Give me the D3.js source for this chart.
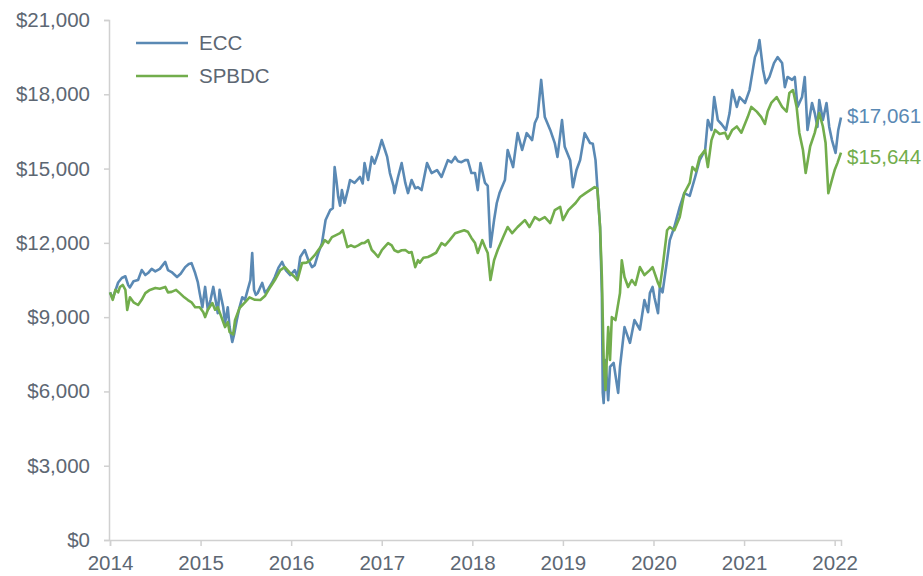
<!DOCTYPE html>
<html>
<head>
<meta charset="utf-8">
<script src="https://cdn.jsdelivr.net/npm/d3@7"></script>
<style>
  body { margin: 0; background: #fff; }
  svg text { font-family: "Liberation Sans", Arial, sans-serif; }
</style>
</head>
<body>
<div id="chart"></div>
<script>
// series data, dates as decimal years
var eccDates = [2014.00,2014.03,2014.09,2014.13,2014.17,2014.20,2014.22,2014.26,2014.31,2014.35,2014.39,2014.42,2014.46,2014.50,2014.55,2014.61,2014.64,2014.68,2014.74,2014.78,2014.83,2014.87,2014.90,2014.94,2014.97,2014.99,
  2015.02,2015.05,2015.08,2015.11,2015.14,2015.17,2015.19,2015.21,2015.25,2015.27,2015.30,2015.32,2015.35,2015.37,2015.40,2015.43,2015.46,2015.49,2015.52,2015.55,2015.57,2015.59,2015.61,2015.63,2015.68,2015.71,2015.74,2015.79,2015.82,2015.86,2015.90,2015.94,2015.99,
  2016.04,2016.07,2016.10,2016.15,2016.19,2016.23,2016.26,2016.30,2016.34,2016.38,2016.43,2016.46,2016.48,2016.50,2016.52,2016.54,2016.56,2016.59,2016.63,2016.65,2016.70,2016.76,2016.79,2016.81,2016.85,2016.89,2016.92,2016.96,
  2017.00,2017.04,2017.06,2017.09,2017.13,2017.14,2017.18,2017.22,2017.26,2017.29,2017.33,2017.37,2017.40,2017.44,2017.50,2017.55,2017.61,2017.66,2017.73,2017.77,2017.81,2017.84,2017.88,2017.92,2017.95,2017.99,
  2018.03,2018.06,2018.09,2018.14,2018.17,2018.20,2018.24,2018.27,2018.30,2018.36,2018.39,2018.45,2018.50,2018.55,2018.60,2018.66,2018.69,2018.72,2018.76,2018.80,2018.86,2018.91,2018.94,2018.99,
  2019.02,2019.08,2019.11,2019.15,2019.19,2019.24,2019.30,2019.33,2019.36,2019.38,2019.41,2019.43,2019.44,2019.45,2019.47,2019.50,2019.52,2019.56,2019.61,2019.63,2019.68,2019.74,2019.79,2019.85,2019.90,2019.94,2019.96,2019.99,
  2020.01,2020.05,2020.07,2020.10,2020.15,2020.18,2020.23,2020.29,2020.34,2020.40,2020.46,2020.51,2020.57,2020.60,2020.64,2020.67,2020.71,2020.75,2020.80,2020.84,2020.87,2020.92,2020.95,
  2021.01,2021.06,2021.12,2021.15,2021.17,2021.21,2021.24,2021.28,2021.33,2021.37,2021.42,2021.45,2021.48,2021.53,2021.56,2021.59,2021.64,2021.67,2021.70,2021.75,2021.78,2021.81,2021.83,2021.87,2021.91,2021.94,2021.97,
  2022.01,2022.04,2022.07];
var eccValues = [10000,9750,10400,10580,10650,10300,10200,10450,10500,10900,10700,10780,10950,10850,10950,11230,10900,10820,10620,10750,11020,11150,11180,10780,10400,9970,
  9400,10220,9290,9700,10220,9600,9160,10100,9400,8760,9400,8600,8000,8300,8880,9400,9800,9700,10100,10500,11590,10100,9900,9970,10380,10000,10100,10400,10620,11000,11230,10900,10700,
  10900,10620,11430,11710,11300,11020,11100,11590,11990,12920,13320,13400,15060,14500,13850,13500,14130,13610,14200,14540,14420,14660,14400,15220,14540,15470,15200,15630,
  16150,15700,15470,14820,14300,14010,14660,15220,14420,14010,14540,14200,14250,14130,15220,14820,14940,14660,15340,15250,15470,15300,15260,15340,15340,14820,
  14820,14130,15220,14420,14300,11830,12920,13610,14010,14540,15750,15060,16430,15750,16430,16150,16840,17080,18580,17080,16560,16030,15470,16960,
  15880,15340,14250,14940,15340,16430,16030,16000,15340,14250,12640,9970,5940,5530,7270,5650,6990,7150,5940,6990,8600,7960,8880,8500,9690,9200,9970,10220,
  9800,9160,10220,10000,11300,12110,12640,13450,14010,13900,14660,15340,15750,16960,16560,17890,16960,16800,16560,17240,18170,17490,17890,
  17650,18170,19500,19790,20190,18980,18450,18700,19260,19500,19260,18290,18700,18580,18700,17490,17890,18700,16560,17650,17240,16680,17770,16960,17650,16680,16150,
  15630,16560,17061];

var spbdcDates = [2014.00,2014.03,2014.06,2014.09,2014.11,2014.14,2014.17,2014.19,2014.22,2014.26,2014.31,2014.35,2014.39,2014.44,2014.50,2014.55,2014.61,2014.64,2014.68,2014.73,2014.77,2014.82,2014.86,2014.90,2014.94,2014.99,
  2015.03,2015.05,2015.08,2015.13,2015.16,2015.19,2015.22,2015.27,2015.30,2015.32,2015.36,2015.38,2015.43,2015.49,2015.54,2015.60,2015.66,2015.71,2015.77,2015.82,2015.88,2015.93,2015.99,
  2016.04,2016.07,2016.12,2016.17,2016.21,2016.26,2016.30,2016.34,2016.37,2016.41,2016.45,2016.49,2016.54,2016.57,2016.62,2016.66,2016.70,2016.74,2016.78,2016.81,2016.85,2016.89,2016.92,2016.96,
  2017.00,2017.03,2017.07,2017.11,2017.14,2017.18,2017.22,2017.26,2017.30,2017.33,2017.37,2017.40,2017.42,2017.46,2017.51,2017.55,2017.60,2017.66,2017.70,2017.75,2017.81,2017.86,2017.91,2017.95,2017.99,
  2018.03,2018.06,2018.11,2018.14,2018.17,2018.20,2018.24,2018.28,2018.34,2018.39,2018.44,2018.50,2018.58,2018.63,2018.69,2018.74,2018.80,2018.86,2018.91,2018.97,
  2019.00,2019.06,2019.14,2019.19,2019.25,2019.30,2019.35,2019.38,2019.41,2019.43,2019.45,2019.47,2019.50,2019.52,2019.54,2019.58,2019.63,2019.65,2019.68,2019.72,2019.76,2019.80,2019.85,2019.90,2019.96,2019.99,
  2020.05,2020.07,2020.10,2020.15,2020.18,2020.23,2020.29,2020.34,2020.40,2020.43,2020.47,2020.51,2020.57,2020.60,2020.64,2020.68,2020.73,2020.79,2020.82,2020.87,2020.92,2020.97,
  2021.04,2021.08,2021.14,2021.19,2021.23,2021.26,2021.30,2021.36,2021.42,2021.47,2021.50,2021.54,2021.58,2021.61,2021.65,2021.68,2021.73,2021.78,2021.83,2021.87,2021.90,2021.93,2021.97,
  2022.00,2022.03,2022.07];
var spbdcValues = [10000,9700,10100,10000,10220,10300,10100,9290,9800,9600,9490,9700,9970,10100,10180,10150,10220,10000,10020,10100,9970,9800,9690,9600,9400,9400,
  9200,9000,9300,9570,9300,9400,9100,8600,8800,8400,8300,8880,9370,9600,9800,9700,9690,9850,10220,10500,10900,11020,10780,
  10620,10500,11180,11200,11300,11500,11710,11900,12110,12000,12230,12300,12390,12510,11830,11900,11830,11900,11990,12000,12110,11710,11600,11430,
  11700,11830,11990,11900,11700,11630,11700,11710,11600,11630,11020,11300,11200,11400,11430,11500,11600,11990,11900,12110,12390,12450,12510,12450,12200,
  11990,11590,12110,11830,11590,10500,11300,11710,12230,12640,12390,12640,12920,12640,13040,12920,13040,12800,13320,13450,
  12920,13320,13610,13850,14010,14130,14250,14200,12640,10620,7270,6060,8600,7270,9000,8880,9970,11300,10620,10220,10500,10300,11020,10700,10900,11020,
  10380,10220,11000,12510,12640,12510,13040,14010,14420,15060,14900,15470,15750,15060,16150,16560,16400,16450,16200,16560,16700,16450,
  17080,17490,17300,17080,16800,17300,17650,17890,17490,17300,18050,18170,17490,16440,15750,14820,15900,16440,17240,16700,16030,14010,14540,
  14940,15220,15644];

var yTicks = [0, 3000, 6000, 9000, 12000, 15000, 18000, 21000];
var xTicks = [2014, 2015, 2016, 2017, 2018, 2019, 2020, 2021, 2022];
var seriesNames = ["ECC", "SPBDC"];
var seriesColors = ["#5a89b4", "#72ad4c"];
var endLabels = ["$17,061", "$15,644"];

var width = 923, height = 576;
var margin = {left: 110, right: 82, top: 20, bottom: 36};
var textColor = "#5d6773";
var axisColor = "#d0d0d0";
var fontSize = "20.5px";

var svg = d3.select("#chart").append("svg")
  .attr("width", width)
  .attr("height", height);

var x = d3.scaleLinear()
  .domain([2014, 2022.07])
  .range([margin.left, width - margin.right]);

var y = d3.scaleLinear()
  .domain([0, 21000])
  .range([height - margin.bottom, margin.top]);

var fmt = d3.format("$,");

// y axis
var yAxis = svg.append("g")
  .attr("transform", "translate(" + (margin.left - 1) + ",0)")
  .call(d3.axisLeft(y).tickValues(yTicks).tickFormat(fmt).tickSize(5).tickPadding(14));
yAxis.select(".domain").attr("stroke", axisColor).attr("stroke-width", 1.5);
yAxis.selectAll(".tick line").attr("stroke", axisColor).attr("stroke-width", 1.5);
yAxis.selectAll("text").attr("fill", textColor).style("font-size", fontSize);

// x axis
var xAxis = svg.append("g")
  .attr("transform", "translate(0," + (height - margin.bottom) + ")")
  .call(d3.axisBottom(x).tickValues(xTicks).tickFormat(d3.format("d")).tickSize(6).tickPadding(9));
xAxis.select(".domain").attr("stroke", axisColor).attr("stroke-width", 1.5);
xAxis.selectAll(".tick line").attr("stroke", axisColor).attr("stroke-width", 1.5);
xAxis.selectAll("text").attr("fill", textColor).style("font-size", fontSize);

// lines
var series = [
  {name: seriesNames[0], dates: eccDates, values: eccValues, color: seriesColors[0], label: endLabels[0]},
  {name: seriesNames[1], dates: spbdcDates, values: spbdcValues, color: seriesColors[1], label: endLabels[1]}
];

var line = d3.line()
  .x(function(d) { return x(d[0]); })
  .y(function(d) { return y(d[1]); });

series.forEach(function(s) {
  var pts = d3.zip(s.dates, s.values);
  svg.append("path")
    .datum(pts)
    .attr("fill", "none")
    .attr("stroke", s.color)
    .attr("stroke-width", 2.6)
    .attr("stroke-linejoin", "round")
    .attr("d", line);
});

// end labels
series.forEach(function(s, i) {
  var last = s.values[s.values.length - 1];
  svg.append("text")
    .attr("x", x(s.dates[s.dates.length - 1]) + 6)
    .attr("y", y(last) + (i == 1 ? 4 : -2))
    .attr("dy", "0.35em")
    .attr("fill", s.color)
    .style("font-size", fontSize)
    .text(s.label);
});

// legend
series.forEach(function(s, i) {
  var ly = 43 + i * 33;
  svg.append("line")
    .attr("x1", 136).attr("x2", 188)
    .attr("y1", ly).attr("y2", ly)
    .attr("stroke", s.color)
    .attr("stroke-width", 2.6);
  svg.append("text")
    .attr("x", 199)
    .attr("y", ly)
    .attr("dy", "0.35em")
    .attr("fill", textColor)
    .style("font-size", fontSize)
    .text(s.name);
});
</script>
</body>
</html>
